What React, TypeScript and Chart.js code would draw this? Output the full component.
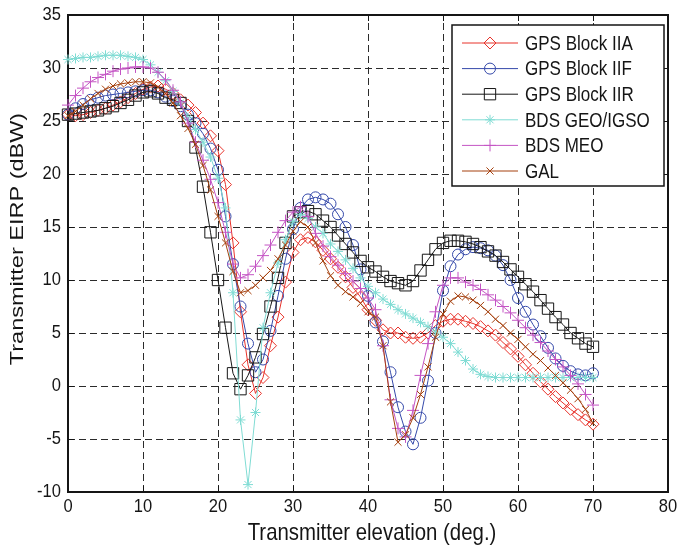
import React, { useEffect, useRef } from 'react';
import { Chart, registerables } from 'chart.js';
import { drawPoint } from 'chart.js/helpers';

Chart.register(...registerables);

const elevation = [0,1,2,3,4,5,6,7,8,9,10,11,12,13,14,15,16,17,18,19,20,21,22,23,24,25,26,27,28,29,30,31,32,33,34,35,36,37,38,39,40,41,42,43,44,45,46,47,48,49,50,51,52,53,54,55,56,57,58,59,60,61,62,63,64,65,66,67,68,69,70];

const gpsIIA = [25.6,25.5,25.6,25.8,26.0,26.2,26.5,26.8,27.2,27.6,28.0,28.2,28.3,28.0,27.6,27.0,26.5,25.8,24.8,23.6,22.2,19.0,13.5,7.0,2.0,-0.7,0.8,3.8,6.5,9.8,12.6,13.8,14.0,13.6,12.8,12.0,11.2,10.3,9.3,8.4,7.2,6.2,5.3,5.0,5.0,4.6,4.5,4.6,5.0,5.7,6.1,6.3,6.3,6.1,5.9,5.6,5.2,4.8,4.1,3.5,2.8,2.0,1.2,0.4,-0.3,-1.0,-1.6,-2.2,-2.7,-3.2,-3.6];

const gpsIIF = [25.6,26.2,26.6,27.0,27.2,27.4,27.5,27.6,27.7,27.8,27.9,27.9,27.7,27.3,26.9,26.4,25.6,24.8,23.8,22.4,20.4,16.0,11.5,7.5,4.0,1.3,2.5,5.2,8.5,12.0,14.8,16.8,17.6,17.8,17.6,17.2,16.2,15.0,13.3,11.0,8.5,6.0,4.2,1.3,-2.0,-4.3,-5.5,-3.0,0.5,5.0,9.0,11.3,12.4,12.9,13.1,13.0,12.8,12.3,11.4,10.0,8.3,7.0,5.8,4.7,3.6,2.6,1.9,1.4,1.1,1.0,1.2];

const gpsIIR = [25.6,25.7,25.8,25.9,26.0,26.2,26.4,26.7,27.0,27.4,27.7,27.8,27.6,27.2,27.0,26.7,25.0,22.5,18.8,14.5,10.0,5.5,1.2,-0.3,1.0,2.7,4.9,7.5,10.2,13.5,16.0,16.4,16.5,16.2,15.6,15.0,14.2,13.4,12.6,11.8,11.2,10.8,10.3,9.9,9.7,9.5,9.9,10.9,11.9,12.9,13.5,13.7,13.7,13.6,13.4,13.1,12.7,12.3,11.7,11.0,10.3,9.6,8.9,8.1,7.3,6.5,5.8,5.0,4.5,4.0,3.7];

const bdsGeoIgso = [30.8,30.9,31.0,31.0,31.1,31.2,31.2,31.2,31.1,31.0,30.8,30.3,29.6,28.8,27.8,26.7,25.3,24.2,23.0,21.6,19.6,16.8,8.8,-3.2,-9.3,-2.5,5.5,8.8,11.6,13.8,15.5,16.2,15.8,15.0,14.4,13.4,12.7,11.9,11.1,10.2,9.4,8.8,8.2,7.7,7.2,6.8,6.4,6.0,5.6,5.1,4.6,4.0,3.2,2.4,1.6,1.1,0.9,0.8,0.8,0.8,0.8,0.8,0.8,0.8,0.8,0.8,0.8,0.8,0.8,0.8,0.8];

const bdsMeo = [26.5,27.4,28.1,28.7,29.1,29.4,29.7,29.9,30.0,30.1,30.1,30.0,29.6,28.9,27.9,26.8,24.8,23.0,21.3,19.5,17.3,14.5,11.5,10.2,10.5,11.3,12.3,13.3,14.5,15.6,16.4,16.9,16.0,14.4,13.2,12.2,11.4,10.6,9.9,9.2,8.3,7.2,3.8,-1.3,-4.0,-4.8,-2.3,1.0,4.0,7.0,9.5,10.2,10.2,9.8,9.5,9.1,8.6,8.1,7.5,6.9,6.2,5.5,4.8,4.1,3.3,2.5,1.8,1.0,0.2,-0.8,-1.8];

const gal = [25.5,25.9,26.5,27.1,27.6,28.0,28.3,28.5,28.6,28.7,28.7,28.6,28.2,27.6,26.7,25.5,24.3,22.8,20.8,18.5,16.0,13.5,10.8,8.8,9.0,9.5,10.2,10.9,12.0,13.3,14.6,15.5,15.0,13.5,11.8,10.4,9.5,8.9,8.4,7.8,7.0,6.5,3.8,-1.5,-5.3,-4.6,-3.0,-0.8,1.8,4.6,6.8,8.0,8.5,8.4,8.1,7.6,7.0,6.3,5.7,5.0,4.4,3.7,3.0,2.4,1.7,1.0,0.3,-0.4,-1.2,-2.2,-3.5];

const seriesLabels = ['GPS Block IIA', 'GPS Block IIF', 'GPS Block IIR', 'BDS GEO/IGSO', 'BDS MEO', 'GAL'];
const seriesValues = [gpsIIA, gpsIIF, gpsIIR, bdsGeoIgso, bdsMeo, gal];
const seriesColors = ['#e8322a', '#3549aa', '#161616', '#80dcd4', '#c455c4', '#a5410f'];
const seriesMarkers = ['rectRot', 'circle', 'rect', 'star', 'cross', 'crossRot'];
const seriesMarkerSizes = [6, 5.5, 8, 5, 6, 5];

const xAxisTitle = 'Transmitter elevation (deg.)';
const yAxisTitle = 'Transmitter EIRP (dBW)';

const FONT = '"Liberation Sans", Arial, Helvetica, sans-serif';
const INK = '#151515';

function scaledText(ctx: any, text: string, x: number, y: number, size: number, sx: number, align: string, rotate = false) {
  ctx.save();
  ctx.translate(x, y);
  if (rotate) ctx.rotate(-Math.PI / 2);
  ctx.scale(sx, 1);
  ctx.font = `${size}px ${FONT}`;
  ctx.fillStyle = INK;
  ctx.textAlign = align;
  ctx.textBaseline = 'middle';
  ctx.fillText(text, 0, 0);
  ctx.restore();
}

const gridFramePlugin = {
  id: 'gridFrame',
  beforeDatasetsDraw(chart: any) {
    const { ctx, chartArea } = chart;
    const { left, right, top, bottom } = chartArea;
    const xs = chart.scales.x;
    const ys = chart.scales.y;
    ctx.save();
    // dashed grid
    ctx.strokeStyle = '#2b2b2b';
    ctx.lineWidth = 1;
    ctx.setLineDash([7, 4]);
    ctx.beginPath();
    xs.ticks.forEach((t: any) => {
      const px = Math.round(xs.getPixelForValue(t.value)) + 0.5;
      if (px <= left + 1 || px >= right - 1) return;
      ctx.moveTo(px, bottom); ctx.lineTo(px, top);
    });
    ys.ticks.forEach((t: any) => {
      const py = Math.round(ys.getPixelForValue(t.value)) + 0.5;
      if (py <= top + 1 || py >= bottom - 1) return;
      ctx.moveTo(left, py); ctx.lineTo(right, py);
    });
    ctx.stroke();
    // inward tick marks
    ctx.setLineDash([]);
    ctx.strokeStyle = INK;
    ctx.beginPath();
    xs.ticks.forEach((t: any) => {
      const px = Math.round(xs.getPixelForValue(t.value)) + 0.5;
      ctx.moveTo(px, bottom); ctx.lineTo(px, bottom - 6);
      ctx.moveTo(px, top); ctx.lineTo(px, top + 6);
    });
    ys.ticks.forEach((t: any) => {
      const py = Math.round(ys.getPixelForValue(t.value)) + 0.5;
      ctx.moveTo(left, py); ctx.lineTo(left + 6, py);
      ctx.moveTo(right, py); ctx.lineTo(right - 6, py);
    });
    ctx.stroke();
    ctx.lineWidth = 2;
    ctx.strokeRect(left, top, right - left, bottom - top);
    ctx.restore();
  },
  afterDraw(chart: any) {
    const { ctx, chartArea } = chart;
    const xs = chart.scales.x;
    const ys = chart.scales.y;
    xs.ticks.forEach((t: any) => {
      scaledText(ctx, String(t.label), xs.getPixelForValue(t.value), chartArea.bottom + 15, 19, 0.87, 'center');
    });
    ys.ticks.forEach((t: any) => {
      scaledText(ctx, String(t.label), chartArea.left - 7, ys.getPixelForValue(t.value), 19, 0.87, 'right');
    });
    scaledText(ctx, xAxisTitle, (chartArea.left + chartArea.right) / 2 + 4, chartArea.bottom + 41, 24, 0.85, 'center');
    scaledText(ctx, yAxisTitle, 18, 239, 18.5, 1.27, 'center', true);
  },
};

const legendPlugin = {
  id: 'boxLegend',
  afterDraw(chart: any) {
    const { ctx, chartArea } = chart;
    const w = 212;
    const h = 161;
    const x0 = chartArea.right - w - 4;
    const y0 = chartArea.top + 10;
    ctx.save();
    ctx.fillStyle = '#ffffff';
    ctx.fillRect(x0, y0, w, h);
    ctx.lineWidth = 1.5;
    ctx.strokeStyle = INK;
    ctx.setLineDash([]);
    ctx.strokeRect(x0, y0, w, h);
    chart.data.datasets.forEach((ds: any, i: number) => {
      const y = y0 + 18 + i * 25.6;
      ctx.strokeStyle = ds.borderColor;
      ctx.lineWidth = 1;
      ctx.beginPath();
      ctx.moveTo(x0 + 10, y);
      ctx.lineTo(x0 + 66, y);
      ctx.stroke();
      ctx.fillStyle = 'rgba(0,0,0,0)';
      drawPoint(ctx, { pointStyle: ds.pointStyle, radius: ds.pointRadius, borderWidth: 1, rotation: 0 } as any, x0 + 38, y);
      scaledText(ctx, ds.label, x0 + 73, y + 1, 21, 0.81, 'left');
    });
    ctx.restore();
  },
};

export default function App() {
  const canvasRef = useRef<HTMLCanvasElement | null>(null);

  useEffect(() => {
    const canvas = canvasRef.current;
    if (!canvas) return;
    const datasets = seriesLabels.map((label, i) => ({
      label,
      data: elevation.map((x, j) => ({ x, y: seriesValues[i][j] })),
      borderColor: seriesColors[i],
      backgroundColor: 'rgba(0,0,0,0)',
      borderWidth: 1,
      pointStyle: seriesMarkers[i],
      pointRadius: seriesMarkerSizes[i],
      pointBorderWidth: 1,
      pointBorderColor: seriesColors[i],
      pointBackgroundColor: 'rgba(0,0,0,0)',
      fill: false,
      tension: 0,
      clip: false,
      order: seriesLabels.length - 1 - i,
    }));

    const chart = new Chart(canvas, {
      type: 'line',
      data: { datasets },
      plugins: [gridFramePlugin, legendPlugin],
      options: {
        responsive: false,
        animation: false,
        devicePixelRatio: 1,
        layout: { padding: { top: 15, right: 17, left: 0, bottom: 0 } },
        plugins: { legend: { display: false }, tooltip: { enabled: false } },
        scales: {
          x: {
            type: 'linear',
            min: 0,
            max: 80,
            afterFit: (s: any) => { s.height = 56; },
            ticks: { stepSize: 10, display: false },
            grid: { display: false },
            border: { display: false },
            title: { display: false },
          },
          y: {
            type: 'linear',
            min: -10,
            max: 35,
            afterFit: (s: any) => { s.width = 68; },
            ticks: { stepSize: 5, display: false },
            grid: { display: false },
            border: { display: false },
            title: { display: false },
          },
        },
      } as any,
    });
    return () => chart.destroy();
  }, []);

  return (
    <div style={{ position: 'absolute', left: 0, top: 0, width: 685, height: 548, background: '#fff' }}>
      <canvas ref={canvasRef} width={685} height={548} style={{ display: 'block' }} />
    </div>
  );
}
